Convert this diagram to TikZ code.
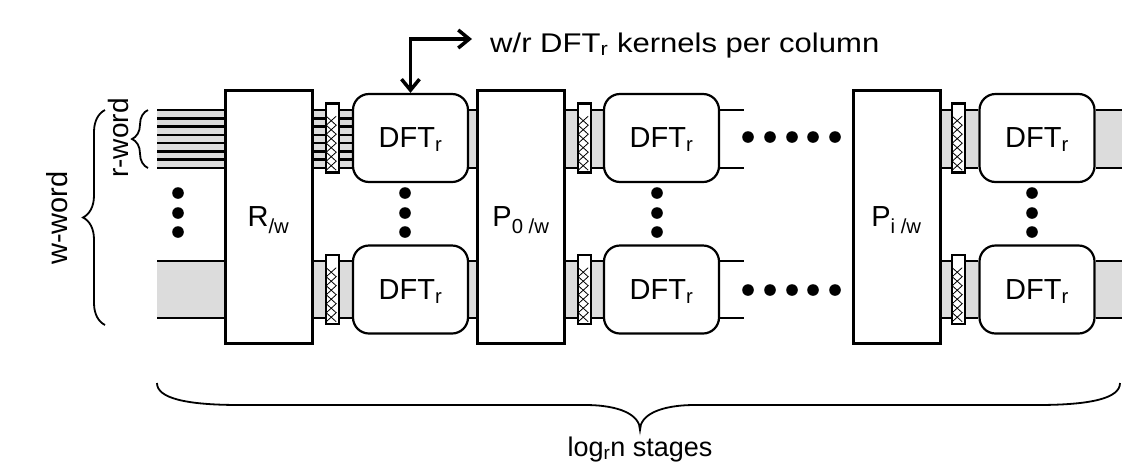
\documentclass[tikz,border=0pt]{standalone}
\usepackage{fontspec}
\setmainfont{Liberation Sans}
\usetikzlibrary{arrows.meta,decorations.pathreplacing,calc}
\pgfdeclarelayer{bg}
\pgfsetlayers{bg,main}
\definecolor{bandgray}{RGB}{220,220,220}
\newcommand{\regzig}[1]{%
  \draw[line width=0.8pt] ($(#1.north west)+(1.5,14)$)
    \foreach \j in {1,...,6}{ -- ($(#1.north west)+({1.5+10*mod(\j,2)},{14+\j*9})$) };
  \draw[line width=0.8pt] ($(#1.north west)+(11.5,14)$)
    \foreach \j in {1,...,6}{ -- ($(#1.north west)+({11.5-10*mod(\j,2)},{14+\j*9})$) };
}
\begin{document}
\begin{tikzpicture}[x=1pt,y=-1pt,
  lbl/.style={font=\fontsize{29}{34}\selectfont, text depth=0pt},
  permbox/.style={draw, line width=3pt, fill=white, minimum width=87pt, minimum height=253pt, inner sep=0pt, lbl},
  dftbox/.style={draw, line width=2.2pt, rounded corners=16pt, fill=white, minimum width=115pt, minimum height=88pt, inner sep=0pt, lbl},
  regbox/.style={draw, line width=2.6pt, fill=white, minimum width=13pt, minimum height=69pt, inner sep=0pt},
  bline/.style={line width=2.8pt},
  thinline/.style={line width=2.6pt},
  bfill/.style={fill=bandgray},
  dotc/.style={fill=black},
  bracestyle/.style={line width=1.8pt},
  arr/.style={line width=3.5pt, {Straight Barb[length=11pt,width=18pt]}-{Straight Barb[length=11pt,width=18pt]}}]
\useasboundingbox (0,0) rectangle (1122,467);

% ---- boxes
\node[permbox] (R)  at (268.5,217) {R\textsubscript{/w}};
\node[permbox] (P0) at (521,217)   {P\textsubscript{0 /w}};
\node[permbox] (Pi) at (896.5,217) {P\textsubscript{i /w}};
\node[dftbox] (D1t) at (410.5,138)   {DFT\textsubscript{r}};
\node[dftbox] (D1b) at (410.5,289.5) {DFT\textsubscript{r}};
\node[dftbox] (D2t) at (661.5,138)   {DFT\textsubscript{r}};
\node[dftbox] (D2b) at (661.5,289.5) {DFT\textsubscript{r}};
\node[dftbox] (D3t) at (1037,138)    {DFT\textsubscript{r}};
\node[dftbox] (D3b) at (1037,289.5)  {DFT\textsubscript{r}};

% ---- registers
\node[regbox] (G1t) at (332.5,138)   {};
\node[regbox] (G1b) at (332.5,289.5) {};
\node[regbox] (G2t) at (584.5,138)   {};
\node[regbox] (G2b) at (584.5,289.5) {};
\node[regbox] (G3t) at (958.5,138)   {};
\node[regbox] (G3b) at (958.5,289.5) {};
\foreach \g in {G1t,G1b,G2t,G2b,G3t,G3b}{\regzig{\g}}

% ---- coordinates
\coordinate (yt1) at (0,110);
\coordinate (yt2) at (0,168);
\coordinate (yb1) at (0,261);
\coordinate (yb2) at (0,318);
\coordinate (inT) at (157,110);
\coordinate (inB) at (157,261);
\coordinate (e2t) at (744,110);
\coordinate (e2b) at (744,261);
\coordinate (outR) at (1124,110);

% ---- bands (background)
\begin{pgfonlayer}{bg}
  % left inputs, top: eight r-word lines
  \fill[bfill] (inT) rectangle (R.west |- yt2);
  \fill[bfill] (R.east |- yt1) rectangle (D1t.west |- yt2);
  \foreach \k in {0,...,7}{
    \coordinate (lk) at (157,{110+\k*8.2857});
    \draw[thinline] (lk) -- (lk -| R.west);
    \draw[thinline] (lk -| R.east) -- (lk -| D1t.west);
  }
  % generic two-line bands
  \foreach \a/\b/\ya/\yb in {inB/R.west/yb1/yb2, R.east/D1b.west/yb1/yb2,
      D1t.east/P0.west/yt1/yt2, D1b.east/P0.west/yb1/yb2,
      P0.east/D2t.west/yt1/yt2, P0.east/D2b.west/yb1/yb2,
      Pi.east/D3t.west/yt1/yt2, Pi.east/D3b.west/yb1/yb2,
      D3t.east/outR/yt1/yt2, D3b.east/outR/yb1/yb2}{
    \fill[bfill] (\a |- \ya) rectangle (\b |- \yb);
    \draw[bline] (\a |- \ya) -- (\b |- \ya);
    \draw[bline] (\a |- \yb) -- (\b |- \yb);
  }
  % open lines after second column
  \draw[bline] (D2t.east |- yt1) -- (e2t);
  \draw[bline] (D2t.east |- yt2) -- (e2t |- yt2);
  \draw[bline] (D2b.east |- yb1) -- (e2b);
  \draw[bline] (D2b.east |- yb2) -- (e2b |- yb2);
\end{pgfonlayer}

% ---- dots
\foreach \x in {178,405,657,1032}{
  \foreach \y in {193,213,232}{\fill[dotc] (\x,\y) circle (5.8);}
}
\foreach \x in {748,770,792,813,835}{
  \fill[dotc] (\x,137) circle (5.8);
  \fill[dotc] (\x,290) circle (5.8);
}

% ---- top annotation
\node[anchor=base west, inner sep=0pt, font=\fontsize{27}{32}\selectfont] (toptext) at (490,52)
  {\scalebox{1.15}[1]{w/r DFT\textsubscript{r} kernels per column}};
\coordinate (arrend) at (472,39);
\draw[arr] (D1t.north) |- (arrend);

% ---- braces
\draw[bracestyle, decorate, decoration={brace, amplitude=22pt}] (105,325) -- (105,110);
\draw[bracestyle, decorate, decoration={brace, amplitude=16pt}] (148,168) -- (148,110);
\node[rotate=90, font=\fontsize{29}{34}\selectfont] (wword) at (57,218) {w-word};
\node[rotate=90, font=\fontsize{28}{33}\selectfont] (rword) at (118,138) {r-word};

\draw[bracestyle] (157,383) .. controls (157,398) and (185,405) .. (240,405) -- (585,405)
  .. controls (620,405) and (640,415) .. (640,430)
  .. controls (640,415) and (660,405) .. (695,405) -- (1037,405)
  .. controls (1092,405) and (1120,398) .. (1120,383);
\node[anchor=base, inner sep=0pt, font=\fontsize{27}{32}\selectfont] (stages) at (640,456) {log\textsubscript{r}n stages};
\end{tikzpicture}
\end{document}
